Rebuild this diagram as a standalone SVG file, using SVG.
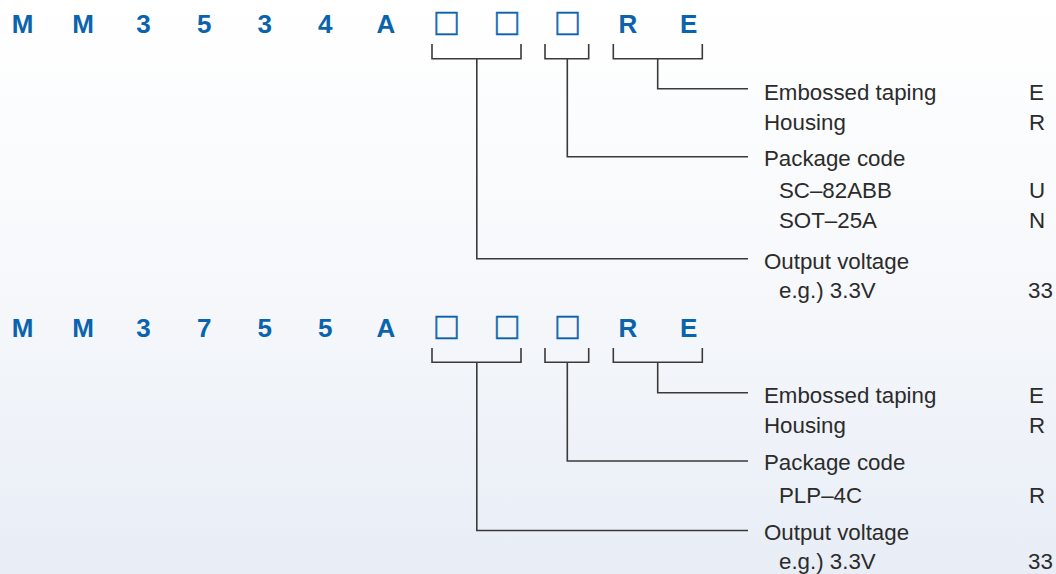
<svg xmlns="http://www.w3.org/2000/svg" width="1056" height="574" viewBox="0 0 1056 574">
<defs>
<linearGradient id="bg" x1="0" y1="0" x2="0" y2="1">
<stop offset="0" stop-color="#ffffff"/>
<stop offset="0.5" stop-color="#f6f8fb"/>
<stop offset="1" stop-color="#e8edf6"/>
</linearGradient>
<style>
.pn{font-family:"Liberation Sans",Arial,sans-serif;font-weight:bold;font-size:26px;fill:#0a64ad;text-anchor:middle}
.bx{font-family:"Noto Sans CJK JP","DejaVu Sans",sans-serif;font-weight:bold;font-size:27px;fill:#0a64ad;stroke:#0a64ad;stroke-width:0.6;text-anchor:middle}
.lb{font-family:"Liberation Sans",Arial,sans-serif;font-size:22.3px;fill:#2b2b2b}
.cn{fill:none;stroke:#3a3a3a;stroke-width:1.6}
</style>
</defs>
<rect width="1056" height="574" fill="url(#bg)"/>

<g id="part-MM3534">
<text class="pn" x="22.5" y="33">M</text>
<text class="pn" x="83" y="33">M</text>
<text class="pn" x="143.6" y="33">3</text>
<text class="pn" x="204.2" y="33">5</text>
<text class="pn" x="264.7" y="33">3</text>
<text class="pn" x="325.3" y="33">4</text>
<text class="pn" x="385.8" y="33">A</text>
<text class="bx" x="446.4" y="34">□</text>
<text class="bx" x="506.9" y="34">□</text>
<text class="bx" x="567.5" y="34">□</text>
<text class="pn" x="628" y="33">R</text>
<text class="pn" x="688.6" y="33">E</text>
</g>

<g id="labels-MM3534">
<g id="t1-taping"><text class="lb" x="764" y="100">Embossed taping</text><text class="lb" x="1029" y="100">E</text></g>
<g id="t1-housing"><text class="lb" x="764" y="130">Housing</text><text class="lb" x="1029" y="130">R</text></g>
<g id="t1-package"><text class="lb" x="764" y="166">Package code</text>
<text class="lb" x="779" y="198">SC–82ABB</text><text class="lb" x="1029" y="198">U</text>
<text class="lb" x="779" y="228">SOT–25A</text><text class="lb" x="1029" y="228">N</text></g>
<g id="t1-voltage"><text class="lb" x="764" y="269">Output voltage</text>
<text class="lb" x="779" y="298">e.g.) 3.3V</text><text class="lb" x="1028" y="298">33</text></g>
</g>

<g id="part-MM3755">
<text class="pn" x="22.5" y="337">M</text>
<text class="pn" x="83" y="337">M</text>
<text class="pn" x="143.6" y="337">3</text>
<text class="pn" x="204.2" y="337">7</text>
<text class="pn" x="264.7" y="337">5</text>
<text class="pn" x="325.3" y="337">5</text>
<text class="pn" x="385.8" y="337">A</text>
<text class="bx" x="446.4" y="338">□</text>
<text class="bx" x="506.9" y="338">□</text>
<text class="bx" x="567.5" y="338">□</text>
<text class="pn" x="628" y="337">R</text>
<text class="pn" x="688.6" y="337">E</text>
</g>

<g id="labels-MM3755">
<g id="t2-taping"><text class="lb" x="764" y="403">Embossed taping</text><text class="lb" x="1029" y="403">E</text></g>
<g id="t2-housing"><text class="lb" x="764" y="433">Housing</text><text class="lb" x="1029" y="433">R</text></g>
<g id="t2-package"><text class="lb" x="764" y="470">Package code</text>
<text class="lb" x="779" y="503">PLP–4C</text><text class="lb" x="1029" y="503">R</text></g>
<g id="t2-voltage"><text class="lb" x="764" y="540">Output voltage</text>
<text class="lb" x="779" y="569">e.g.) 3.3V</text><text class="lb" x="1028" y="569">33</text></g>
</g>

<g id="connectors">
<path class="cn" d="M432 44V58.7H521V44M476.8 58.7V258.7H748"/>
<path class="cn" d="M545 44V58.7H588.7V44M567.3 58.7V156.7H748"/>
<path class="cn" d="M613.3 44V58.7H702.3V44M657.7 58.7V88.7H748"/>
<path class="cn" d="M432 348V362.3H521V348M476.8 362.3V530.5H748"/>
<path class="cn" d="M545 348V362.3H588.7V348M567.3 362.3V461H748"/>
<path class="cn" d="M613.3 348V362.3H702.3V348M657.7 362.3V392.7H748"/>
</g>
</svg>
